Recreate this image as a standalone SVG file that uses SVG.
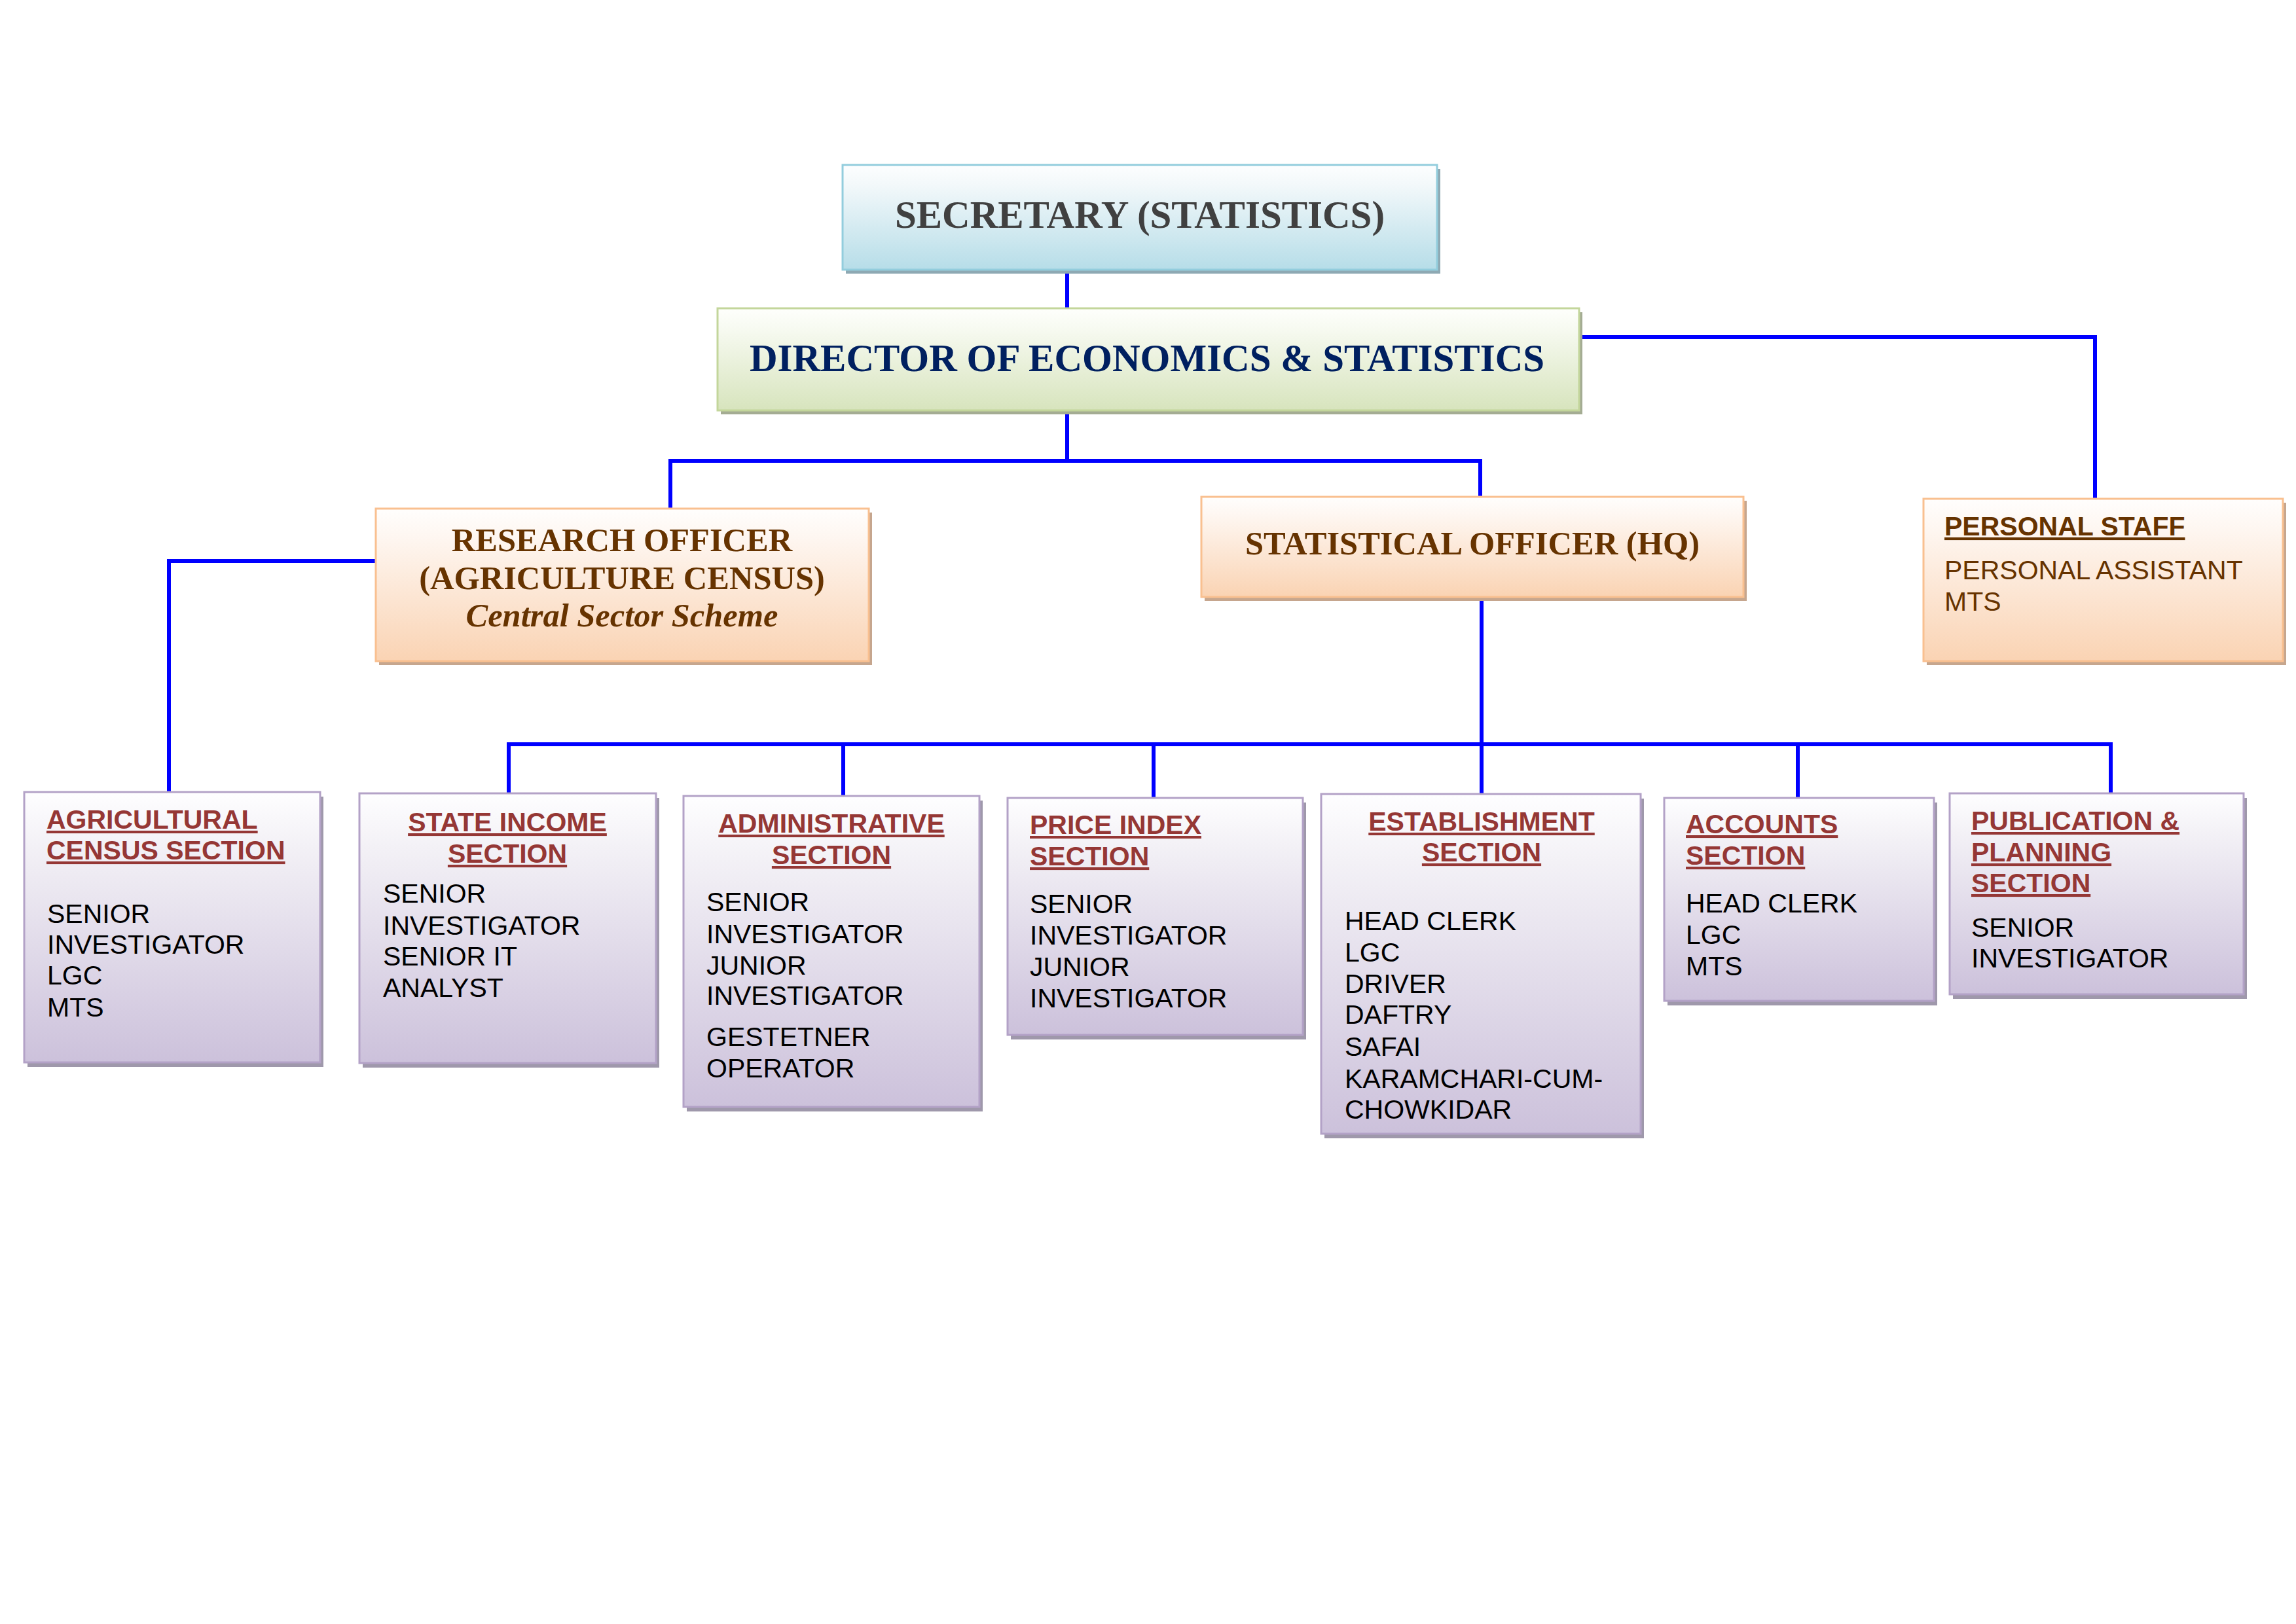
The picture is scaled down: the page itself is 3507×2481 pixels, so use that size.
<svg xmlns="http://www.w3.org/2000/svg" width="3507" height="2481" viewBox="0 0 3507 2481">
<defs>
<linearGradient id="gBlue" x1="0" y1="0" x2="0" y2="1"><stop offset="0" stop-color="#FDFEFF"/><stop offset="0.2" stop-color="#F2F8FA"/><stop offset="1" stop-color="#B6DDE8"/></linearGradient>
<linearGradient id="gGreen" x1="0" y1="0" x2="0" y2="1"><stop offset="0" stop-color="#FEFFFC"/><stop offset="0.2" stop-color="#F7FAF1"/><stop offset="1" stop-color="#D7E4BD"/></linearGradient>
<linearGradient id="gOrange" x1="0" y1="0" x2="0" y2="1"><stop offset="0" stop-color="#FFFEFD"/><stop offset="0.2" stop-color="#FEF6F0"/><stop offset="1" stop-color="#FAD3B3"/></linearGradient>
<linearGradient id="gPurple" x1="0" y1="0" x2="0" y2="1"><stop offset="0" stop-color="#FEFEFF"/><stop offset="0.2" stop-color="#F3F1F6"/><stop offset="1" stop-color="#CCC1DB"/></linearGradient>
<style>
.conn line, .conn polyline { stroke:#0000FF; stroke-width:6; fill:none; }
.bBlue { fill:url(#gBlue); stroke:#93CDDD; stroke-width:3; }
.bGreen { fill:url(#gGreen); stroke:#C3D69B; stroke-width:3; }
.bOrange { fill:url(#gOrange); stroke:#F9C090; stroke-width:3; }
.bPurple { fill:url(#gPurple); stroke:#B3A2C7; stroke-width:3; }
.shBlue { fill:#8EA9B3; }
.shGreen { fill:#A4AC93; }
.shOrange { fill:#C6A68E; }
.shPurple { fill:#9F98AB; }
.hTop { font-family:"Liberation Serif","Times New Roman",serif; font-weight:bold; text-anchor:middle; font-size:59px; }
.hMid { font-family:"Liberation Serif","Times New Roman",serif; font-weight:bold; font-size:50.5px; fill:#663300; text-anchor:middle; }
.sec { font-family:"Liberation Sans",Arial,sans-serif; font-weight:bold; font-size:41px; fill:#953735; text-decoration:underline; }
.body { font-family:"Liberation Sans",Arial,sans-serif; font-size:41px; fill:#000000; }
.ps { font-family:"Liberation Sans",Arial,sans-serif; font-size:41px; fill:#663300; }
.mid { text-anchor:middle; }
</style>
</defs>
<rect width="3507" height="2481" fill="#FFFFFF"/>

<g id="connectors" class="conn">
<line x1="1630" y1="412" x2="1630" y2="473"/>
<line x1="1630" y1="627" x2="1630" y2="704"/>
<polyline points="1024,778 1024,704 2261,704 2261,760"/>
<polyline points="2412,515 3200,515 3200,763"/>
<polyline points="575,857 258,857 258,1211"/>
<line x1="2263" y1="912" x2="2263" y2="1214"/>
<polyline points="777,1213 777,1137 3224,1137 3224,1213"/>
<line x1="1288" y1="1137" x2="1288" y2="1217"/>
<line x1="1762" y1="1137" x2="1762" y2="1220"/>
<line x1="2746" y1="1137" x2="2746" y2="1220"/>
</g>

<g id="secretary">
<rect class="shBlue" x="1292" y="258" width="908" height="160"/>
<rect class="bBlue" x="1287" y="252" width="908" height="160"/>
<text class="hTop" x="1741" y="348" fill="#404040">SECRETARY (STATISTICS)</text>
</g>

<g id="director">
<rect class="shGreen" x="1101" y="477" width="1316" height="156"/>
<rect class="bGreen" x="1096" y="471" width="1316" height="156"/>
<text class="hTop" x="1752" y="567" fill="#002060">DIRECTOR OF ECONOMICS &amp; STATISTICS</text>
</g>

<g id="research-officer">
<rect class="shOrange" x="579" y="783" width="753" height="233"/>
<rect class="bOrange" x="574" y="777" width="753" height="233"/>
<text class="hMid" x="950" y="842">RESEARCH OFFICER</text>
<text class="hMid" x="950" y="900">(AGRICULTURE CENSUS)</text>
<text class="hMid" x="950" y="957" font-style="italic">Central Sector Scheme</text>
</g>

<g id="statistical-officer">
<rect class="shOrange" x="1840" y="765" width="828" height="153"/>
<rect class="bOrange" x="1835" y="759" width="828" height="153"/>
<text class="hMid" x="2249" y="847">STATISTICAL OFFICER (HQ)</text>
</g>

<g id="personal-staff">
<rect class="shOrange" x="2943" y="768" width="549" height="248"/>
<rect class="bOrange" x="2938" y="762" width="549" height="248"/>
<text class="ps" x="2970" y="818" font-weight="bold" text-decoration="underline">PERSONAL STAFF</text>
<text class="ps" x="2970" y="885">PERSONAL ASSISTANT</text>
<text class="ps" x="2970" y="933">MTS</text>
</g>

<g id="agricultural-census-section">
<rect class="shPurple" x="42" y="1217" width="452" height="413"/>
<rect class="bPurple" x="37" y="1210" width="452" height="413"/>
<text class="sec" x="71" y="1266">AGRICULTURAL</text>
<text class="sec" x="71" y="1313">CENSUS SECTION</text>
<text class="body" x="72" y="1410">SENIOR</text>
<text class="body" x="72" y="1457">INVESTIGATOR</text>
<text class="body" x="72" y="1504">LGC</text>
<text class="body" x="72" y="1553">MTS</text>
</g>

<g id="state-income-section">
<rect class="shPurple" x="554" y="1219" width="453" height="412"/>
<rect class="bPurple" x="549" y="1212" width="453" height="412"/>
<text class="sec mid" x="775" y="1270">STATE INCOME</text>
<text class="sec mid" x="775" y="1318">SECTION</text>
<text class="body" x="585" y="1379">SENIOR</text>
<text class="body" x="585" y="1428">INVESTIGATOR</text>
<text class="body" x="585" y="1475">SENIOR IT</text>
<text class="body" x="585" y="1523">ANALYST</text>
</g>

<g id="administrative-section">
<rect class="shPurple" x="1049" y="1223" width="452" height="475"/>
<rect class="bPurple" x="1044" y="1216" width="452" height="475"/>
<text class="sec mid" x="1270" y="1272">ADMINISTRATIVE</text>
<text class="sec mid" x="1270" y="1320">SECTION</text>
<text class="body" x="1079" y="1392">SENIOR</text>
<text class="body" x="1079" y="1441">INVESTIGATOR</text>
<text class="body" x="1079" y="1489">JUNIOR</text>
<text class="body" x="1079" y="1535">INVESTIGATOR</text>
<text class="body" x="1079" y="1598">GESTETNER</text>
<text class="body" x="1079" y="1646">OPERATOR</text>
</g>

<g id="price-index-section">
<rect class="shPurple" x="1544" y="1226" width="451" height="362"/>
<rect class="bPurple" x="1539" y="1219" width="451" height="362"/>
<text class="sec" x="1573" y="1274">PRICE INDEX</text>
<text class="sec" x="1573" y="1322">SECTION</text>
<text class="body" x="1573" y="1395">SENIOR</text>
<text class="body" x="1573" y="1443">INVESTIGATOR</text>
<text class="body" x="1573" y="1491">JUNIOR</text>
<text class="body" x="1573" y="1539">INVESTIGATOR</text>
</g>

<g id="establishment-section">
<rect class="shPurple" x="2023" y="1220" width="488" height="519"/>
<rect class="bPurple" x="2018" y="1213" width="488" height="519"/>
<text class="sec mid" x="2263" y="1269">ESTABLISHMENT</text>
<text class="sec mid" x="2263" y="1316">SECTION</text>
<text class="body" x="2054" y="1421">HEAD CLERK</text>
<text class="body" x="2054" y="1469">LGC</text>
<text class="body" x="2054" y="1517">DRIVER</text>
<text class="body" x="2054" y="1564">DAFTRY</text>
<text class="body" x="2054" y="1613">SAFAI</text>
<text class="body" x="2054" y="1662">KARAMCHARI-CUM-</text>
<text class="body" x="2054" y="1709">CHOWKIDAR</text>
</g>

<g id="accounts-section">
<rect class="shPurple" x="2547" y="1226" width="412" height="310"/>
<rect class="bPurple" x="2542" y="1219" width="412" height="310"/>
<text class="sec" x="2575" y="1273">ACCOUNTS</text>
<text class="sec" x="2575" y="1321">SECTION</text>
<text class="body" x="2575" y="1394">HEAD CLERK</text>
<text class="body" x="2575" y="1442">LGC</text>
<text class="body" x="2575" y="1490">MTS</text>
</g>

<g id="publication-planning-section">
<rect class="shPurple" x="2983" y="1219" width="449" height="307"/>
<rect class="bPurple" x="2978" y="1212" width="449" height="307"/>
<text class="sec" x="3011" y="1268">PUBLICATION &amp;</text>
<text class="sec" x="3011" y="1316">PLANNING</text>
<text class="sec" x="3011" y="1363">SECTION</text>
<text class="body" x="3011" y="1431">SENIOR</text>
<text class="body" x="3011" y="1478">INVESTIGATOR</text>
</g>
</svg>
